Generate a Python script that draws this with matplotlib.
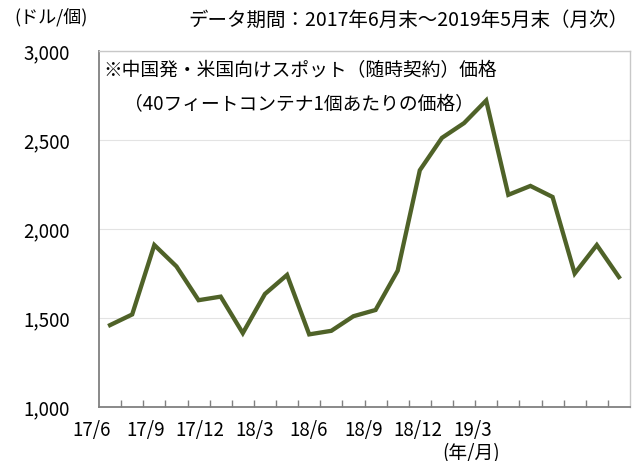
import numpy as np
import matplotlib
matplotlib.use('Agg')
import matplotlib.pyplot as plt
from matplotlib.ticker import FuncFormatter, FixedLocator

plt.rcParams['font.family'] = ['Noto Sans CJK JP', 'DejaVu Sans']

# monthly spot price, 2017/6 - 2019/5
prices = [1460, 1520, 1910, 1790, 1600, 1620, 1415, 1635, 1742, 1408, 1428, 1510,
          1545, 1766, 2330, 2512, 2595, 2722, 2192, 2242, 2180, 1750, 1910, 1730]
xlabels = ['17/6', '17/9', '17/12', '18/3', '18/6', '18/9', '18/12', '19/3']

W, H = 636, 461
fig = plt.figure(figsize=(W / 100, H / 100), dpi=100)
ax = fig.add_axes([99 / W, 1 - 407 / H, 531 / W, 356 / H])

x = np.arange(len(prices))
ax.plot(x, prices, color='#4f6228', linewidth=3.1, solid_joinstyle='miter')

ax.set_xlim(-0.5, len(prices) - 0.5)
ax.set_ylim(1000, 3000)
ax.set_yticks([1000, 1500, 2000, 2500, 3000])
ax.yaxis.set_major_formatter(FuncFormatter(lambda v, p: '{:,.0f}'.format(v)))
ax.tick_params(axis='y', length=0, pad=21, labelsize=13.5, colors='black')
ax.grid(axis='y', color='#e3e3e3', linewidth=0.8)

# month boundaries as small inward ticks
ax.set_xticks([])
ax.xaxis.set_minor_locator(FixedLocator(np.arange(0.5, len(prices) - 1, 1.0)))
ax.tick_params(axis='x', which='minor', direction='in', length=5, width=1, color='#808080')

# labels sit slightly compressed against the month grid, as in the original
xtrans = ax.get_xaxis_transform()
for i, lab in enumerate(xlabels):
    ax.text(-0.85 + 2.46 * i, -0.067, lab, transform=xtrans, fontsize=13.5,
            ha='center', va='center', clip_on=False)

for s in ['left', 'bottom']:
    ax.spines[s].set_color('#808080')
    ax.spines[s].set_linewidth(1.3)
for s in ['top', 'right']:
    ax.spines[s].set_color('#c8c8c8')
    ax.spines[s].set_linewidth(1.0)

fig.text(14 / W, 1 - 18 / H, '(ドル/個)', fontsize=13, va='center', ha='left')
fig.text(628 / W, 1 - 20 / H, 'データ期間：2017年6月末～2019年5月末（月次）',
         fontsize=14, va='center', ha='right')
fig.text(103 / W, 1 - 71 / H, '※中国発・米国向けスポット（随時契約）価格',
         fontsize=13.5, va='center', ha='left')
fig.text(124 / W, 1 - 105 / H, '（40フィートコンテナ1個あたりの価格）',
         fontsize=13.5, va='center', ha='left')
fig.text(471 / W, 1 - 443 / H, '(年/月)', fontsize=13.5, va='top', ha='center')

fig.savefig('out.png', dpi=100)
